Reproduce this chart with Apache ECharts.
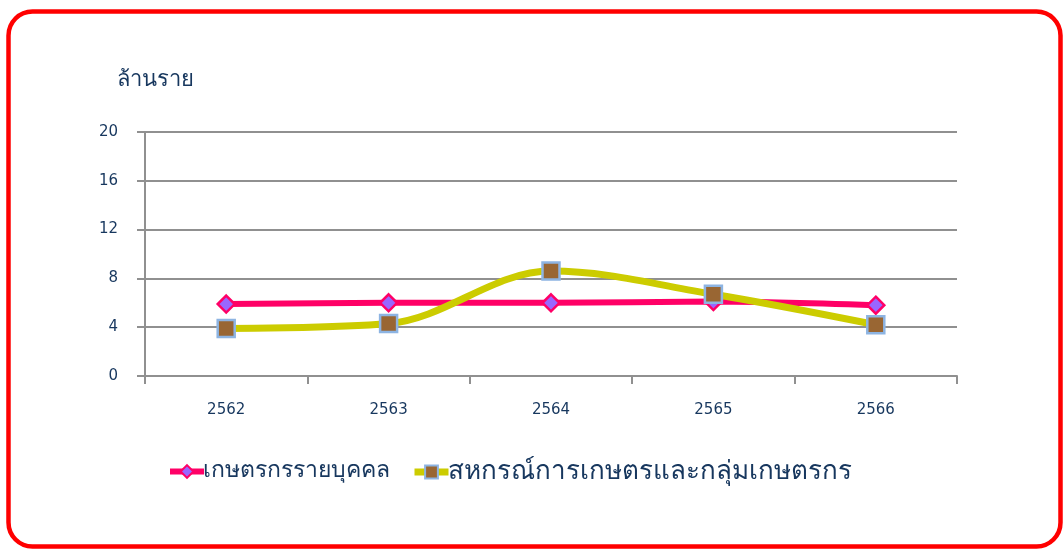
<!DOCTYPE html>
<html>
<head>
<meta charset="utf-8">
<script src="https://cdn.jsdelivr.net/npm/echarts@6/dist/echarts.min.js"></script>
<style>
  html, body { margin: 0; padding: 0; background: #fff; }
  #chart { width: 1063px; height: 549px; }
</style>
</head>
<body>
<div id="chart"></div>
<script>
// Years (Buddhist era) and farmer counts in millions
const years = ['2562', '2563', '2564', '2565', '2566'];
const individualFarmers = [5.9, 6.0, 6.0, 6.1, 5.8];
const cooperativesAndGroups = [3.9, 4.3, 8.6, 6.7, 4.2];
const seriesNames = ['เกษตรกรรายบุคคล', 'สหกรณ์การเกษตรและกลุ่มเกษตรกร'];
const unitLabel = 'ล้านราย';

const textColor = '#17375E';
const fontFamily = 'Tahoma, "DejaVu Sans", "Noto Sans", sans-serif';

const chart = echarts.init(document.getElementById('chart'), null, { renderer: 'canvas' });

function legendText(size) {
  return { fontSize: size, fontWeight: 500, color: textColor, fontFamily: fontFamily, padding: [0, 0, 0, -6] };
}

chart.setOption({
  backgroundColor: '#ffffff',
  animation: false,
  textStyle: { fontFamily: fontFamily, color: textColor },
  graphic: [{
    type: 'rect',
    shape: { x: 8.5, y: 11.5, width: 1052, height: 535, r: 24 },
    style: { fill: 'none', stroke: '#FF0000', lineWidth: 4.5 },
    silent: true,
    z: 100
  }, {
    type: 'text',
    left: 117,
    top: 69,
    style: { text: unitLabel, fontSize: 22, fill: textColor, fontFamily: fontFamily }
  }],
  grid: { left: 145, right: 106, top: 132, bottom: 173, containLabel: false },
  legend: [{
    top: 455,
    left: 162,
    itemWidth: 34,
    itemHeight: 16,
    textStyle: legendText(23),
    data: [{ name: seriesNames[0], lineStyle: { width: 6 } }]
  }, {
    top: 454,
    left: 406,
    itemWidth: 34,
    itemHeight: 16,
    textStyle: legendText(26),
    data: [{ name: seriesNames[1], lineStyle: { width: 7 } }]
  }],
  xAxis: {
    type: 'category',
    data: years,
    boundaryGap: true,
    axisLine: { lineStyle: { color: '#909090', width: 2 } },
    axisTick: { show: true, length: 8, lineStyle: { color: '#909090', width: 2 } },
    axisLabel: { color: textColor, fontSize: 15, margin: 27 },
    splitLine: { show: false }
  },
  yAxis: {
    type: 'value',
    min: 0,
    max: 20,
    interval: 4,
    axisLine: { show: true, lineStyle: { color: '#909090', width: 2 } },
    axisTick: { show: true, length: 8, lineStyle: { color: '#909090', width: 2 } },
    axisLabel: { color: textColor, fontSize: 15, margin: 27 },
    splitLine: { show: true, lineStyle: { color: '#909090', width: 2 } }
  },
  series: [{
    name: seriesNames[0],
    type: 'line',
    data: individualFarmers,
    smooth: 0.3,
    symbol: 'diamond',
    symbolSize: 17,
    lineStyle: { color: '#FF0066', width: 6 },
    itemStyle: { color: '#9966FF', borderColor: '#FF0066', borderWidth: 2.5 },
    z: 3
  }, {
    name: seriesNames[1],
    type: 'line',
    data: cooperativesAndGroups,
    smooth: 0.35,
    symbol: 'rect',
    symbolSize: 17,
    lineStyle: { color: '#CCCC00', width: 7 },
    itemStyle: { color: '#996633', borderColor: '#8DB4E2', borderWidth: 2.5 },
    z: 4
  }]
});
</script>
</body>
</html>
